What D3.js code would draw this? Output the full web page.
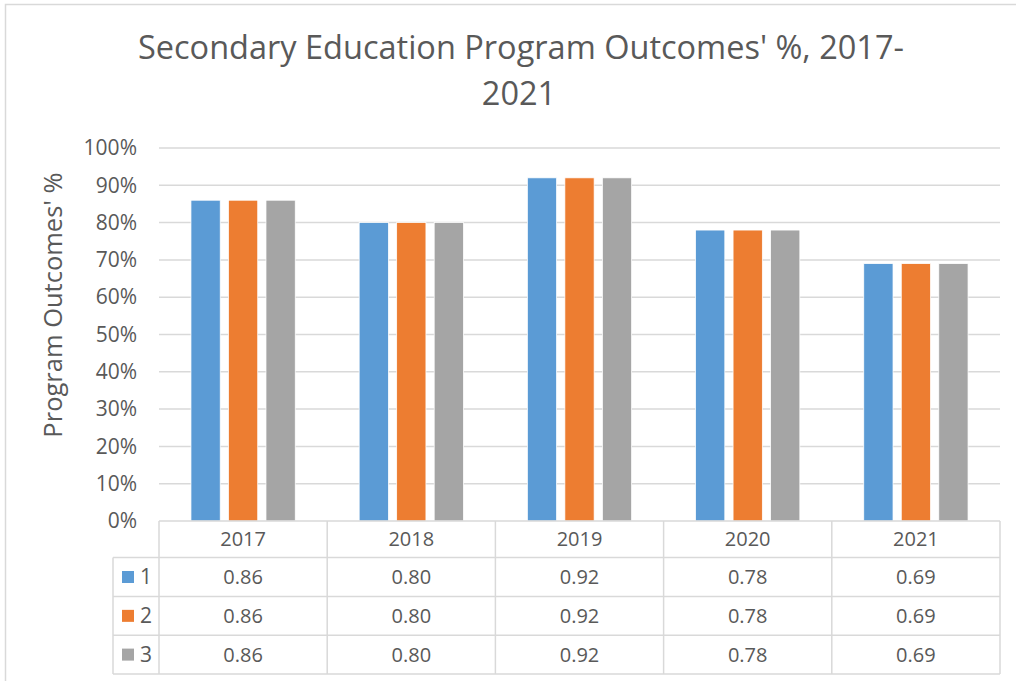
<!DOCTYPE html>
<html>
<head>
<meta charset="utf-8">
<script src="https://cdn.jsdelivr.net/npm/d3@7"></script>
<style>
  body { margin: 0; background: #fff; }
  text { font-family: "Open Sans", sans-serif; fill: #595959; }
</style>
</head>
<body>
<div id="chart"></div>
<script>
// chart data
var years = ["2017", "2018", "2019", "2020", "2021"];
var seriesNames = ["1", "2", "3"];
var series1 = [0.86, 0.80, 0.92, 0.78, 0.69];
var series2 = [0.86, 0.80, 0.92, 0.78, 0.69];
var series3 = [0.86, 0.80, 0.92, 0.78, 0.69];
var yTicks = [0, 0.1, 0.2, 0.3, 0.4, 0.5, 0.6, 0.7, 0.8, 0.9, 1.0];
var colors = ["#5B9BD5", "#ED7D31", "#A5A5A5"];

var allSeries = [series1, series2, series3];

var width = 1016, height = 681;
var plot = {left: 159, right: 1000, top: 148, bottom: 521};

var svg = d3.select("#chart").append("svg")
    .attr("width", width)
    .attr("height", height);

svg.append("rect").attr("width", width).attr("height", height).attr("fill", "#fff");

// chart area border (runs off the right and bottom edges)
svg.append("rect")
    .attr("x", 5.5).attr("y", 4.5)
    .attr("width", 1030).attr("height", 700)
    .attr("fill", "none")
    .attr("stroke", "#D9D9D9")
    .attr("stroke-width", 1.5);

// title
var title = svg.append("text")
    .attr("text-anchor", "middle")
    .style("font-size", "32.5px");
title.append("tspan").attr("x", 521).attr("y", 59).text("Secondary Education Program Outcomes' %, 2017-");
title.append("tspan").attr("x", 519).attr("y", 105).text("2021");

var x = d3.scaleBand()
    .domain(years)
    .range([plot.left, plot.right]);

var step = x.step();
var groupW = step * 0.62;
var xs = d3.scaleBand()
    .domain(seriesNames)
    .range([(step - groupW) / 2, (step + groupW) / 2])
    .paddingInner(0.22);

var y = d3.scaleLinear()
    .domain([0, 1])
    .range([plot.bottom, plot.top]);

// gridlines
svg.append("g").selectAll("line")
    .data(yTicks.slice(1))
    .enter().append("line")
    .attr("x1", plot.left).attr("x2", plot.right)
    .attr("y1", function(d) { return y(d); })
    .attr("y2", function(d) { return y(d); })
    .attr("stroke", "#D9D9D9")
    .attr("stroke-width", 1.5);

// y axis labels
var yAxis = svg.append("g")
    .attr("transform", "translate(" + (plot.left - 22) + ",0)")
    .call(d3.axisLeft(y).tickValues(yTicks).tickFormat(d3.format(".0%")).tickSize(0).tickPadding(0));
yAxis.select(".domain").remove();
yAxis.selectAll("text")
    .attr("fill", "#595959")
    .style("font-size", "21px")
    .style("font-family", "Open Sans, sans-serif");

// y axis title
svg.append("text")
    .attr("transform", "translate(62,305) rotate(-90)")
    .attr("text-anchor", "middle")
    .style("font-size", "25.5px")
    .text("Program Outcomes' %");

// bars
var groups = svg.append("g").selectAll("g")
    .data(allSeries)
    .enter().append("g")
    .attr("fill", function(d, i) { return colors[i]; });

groups.selectAll("rect")
    .data(function(d, i) { return d.map(function(v, j) { return {s: seriesNames[i], year: years[j], v: v}; }); })
    .enter().append("rect")
    .attr("x", function(d) { return x(d.year) + xs(d.s); })
    .attr("width", xs.bandwidth())
    .attr("y", function(d) { return y(d.v); })
    .attr("height", function(d) { return y(0) - y(d.v); })
    .attr("stroke", "#fff")
    .attr("stroke-width", 0.75);

// data table
var tableLeft = 113;
var rowEdges = [521, 557.5, 596.5, 635.2, 674];
var table = svg.append("g");
var lineColor = "#D9D9D9";

// horizontal lines
table.append("line")
    .attr("x1", plot.left).attr("x2", plot.right)
    .attr("y1", rowEdges[0]).attr("y2", rowEdges[0])
    .attr("stroke", lineColor).attr("stroke-width", 1.5);
table.selectAll(".hl")
    .data(rowEdges.slice(1))
    .enter().append("line")
    .attr("class", "hl")
    .attr("x1", tableLeft).attr("x2", plot.right)
    .attr("y1", function(d) { return d; }).attr("y2", function(d) { return d; })
    .attr("stroke", lineColor).attr("stroke-width", 1.5);

// vertical lines
table.append("line")
    .attr("x1", tableLeft).attr("x2", tableLeft)
    .attr("y1", rowEdges[1]).attr("y2", rowEdges[4])
    .attr("stroke", lineColor).attr("stroke-width", 1.5);
table.selectAll(".vl")
    .data(years.concat(["end"]))
    .enter().append("line")
    .attr("class", "vl")
    .attr("x1", function(d, i) { return plot.left + i * step; })
    .attr("x2", function(d, i) { return plot.left + i * step; })
    .attr("y1", rowEdges[0]).attr("y2", rowEdges[4])
    .attr("stroke", lineColor).attr("stroke-width", 1.5);

// header (years)
table.selectAll(".yr")
    .data(years)
    .enter().append("text")
    .attr("class", "yr")
    .attr("x", function(d) { return x(d) + step / 2; })
    .attr("y", (rowEdges[0] + rowEdges[1]) / 2)
    .attr("dy", "0.35em")
    .attr("text-anchor", "middle")
    .style("font-size", "20px")
    .text(function(d) { return d; });

// rows
allSeries.forEach(function(vals, i) {
    var cy = (rowEdges[i + 1] + rowEdges[i + 2]) / 2;
    table.append("rect")
        .attr("x", 122).attr("y", cy - 6)
        .attr("width", 12).attr("height", 12)
        .attr("fill", colors[i]);
    table.append("text")
        .attr("x", 140).attr("y", cy)
        .attr("dy", "0.35em")
        .style("font-size", "21px")
        .text(seriesNames[i]);
    table.selectAll(".v" + i)
        .data(vals)
        .enter().append("text")
        .attr("x", function(d, j) { return x(years[j]) + step / 2; })
        .attr("y", cy)
        .attr("dy", "0.35em")
        .attr("text-anchor", "middle")
        .style("font-size", "20px")
        .text(function(d) { return d3.format(".2f")(d); });
});
</script>
</body>
</html>
